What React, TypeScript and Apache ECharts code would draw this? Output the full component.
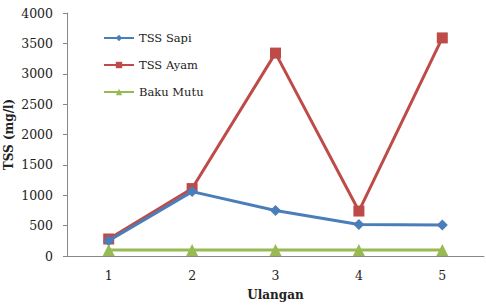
import React, { useEffect, useRef } from "react";
import * as echarts from "echarts";

const categories = ["1", "2", "3", "4", "5"];
const tssSapi = [250, 1060, 750, 520, 510];
const tssAyam = [280, 1110, 3340, 740, 3590];
const bakuMutu = [100, 100, 100, 100, 100];

export default function App() {
  const ref = useRef<HTMLDivElement>(null);
  useEffect(() => {
    const chart = echarts.init(ref.current!, null, { renderer: "svg" });
    const font = "DejaVu Serif";
    chart.setOption({
      animation: false,
      textStyle: { fontFamily: font },
      grid: { left: 67, right: 2, top: 13, bottom: 50, containLabel: false, outerBoundsMode: "none" },
      legend: {
        orient: "vertical",
        left: 98,
        top: 27,
        itemGap: 15,
        itemWidth: 30,
        itemHeight: 8,
        textStyle: { fontFamily: font, fontSize: 11.5, color: "#222" },
        data: ["TSS Sapi", "TSS Ayam", "Baku Mutu"],
      },
      xAxis: {
        type: "category",
        data: categories,
        boundaryGap: true,
        name: "Ulangan",
        nameLocation: "middle",
        nameGap: 33,
        nameMoveOverlap: false,
        nameTextStyle: { fontFamily: font, fontSize: 12, fontWeight: "bold", color: "#222" },
        axisLine: { lineStyle: { color: "#888" } },
        axisTick: { show: false },
        axisLabel: { fontFamily: font, fontSize: 12.5, color: "#222", margin: 13 },
      },
      yAxis: {
        type: "value",
        min: 0,
        max: 4000,
        interval: 500,
        name: "TSS (mg/l)",
        nameLocation: "middle",
        nameGap: 52,
        nameMoveOverlap: false,
        nameTextStyle: { fontFamily: font, fontSize: 12, fontWeight: "bold", color: "#222" },
        axisLine: { show: true, lineStyle: { color: "#888" } },
        axisTick: { show: true, length: 4, lineStyle: { color: "#888" } },
        splitLine: { show: false },
        axisLabel: {
          fontFamily: font,
          fontSize: 12.5,
          color: "#222",
          margin: 14,
          formatter: (v: number) => String(v),
        },
      },
      series: [
        {
          name: "TSS Sapi",
          type: "line",
          data: tssSapi,
          symbol: "diamond",
          symbolSize: 11,
          lineStyle: { width: 3, color: "#4a7ebb" },
          itemStyle: { color: "#4a7ebb" },
          z: 3,
        },
        {
          name: "TSS Ayam",
          type: "line",
          data: tssAyam,
          symbol: "rect",
          symbolSize: 11,
          lineStyle: { width: 3, color: "#be4b48" },
          itemStyle: { color: "#be4b48" },
          z: 2,
        },
        {
          name: "Baku Mutu",
          type: "line",
          data: bakuMutu,
          symbol: "triangle",
          symbolSize: 12,
          lineStyle: { width: 3, color: "#98b954" },
          itemStyle: { color: "#98b954" },
          z: 4,
        },
      ],
    });
    return () => chart.dispose();
  }, []);
  return <div ref={ref} style={{ width: 486, height: 306, position: "absolute", left: 0, top: 0 }} />;
}
